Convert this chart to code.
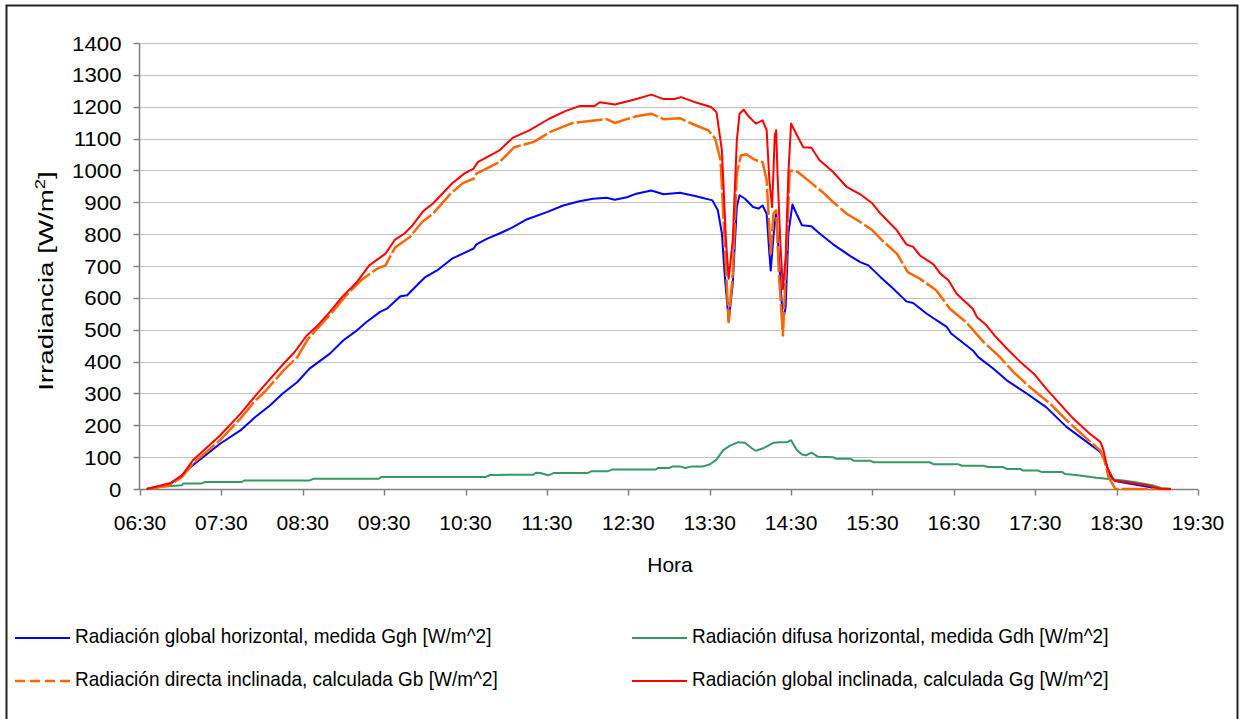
<!DOCTYPE html>
<html>
<head>
<meta charset="utf-8">
<script src="https://cdn.jsdelivr.net/npm/d3@7"></script>
<style>
  body { margin: 0; background: #fff; }
  svg { display: block; font-family: Arial, "Liberation Sans", sans-serif; }
</style>
</head>
<body>
<div class="container"></div>
<script>
// hour tick labels on the x axis
const xTickLabels = ["06:30", "07:30", "08:30", "09:30", "10:30", "11:30", "12:30",
  "13:30", "14:30", "15:30", "16:30", "17:30", "18:30", "19:30"];
const yTicks = [0, 100, 200, 300, 400, 500, 600, 700, 800, 900, 1000, 1100, 1200, 1300, 1400];

// Radiación global horizontal, medida Ggh
const ghTimes = ["06:35", "06:52", "07:01", "07:09", "07:29", "07:44", "07:55", "08:06", "08:15", "08:26",
  "08:35", "08:50", "09:00", "09:10", "09:17", "09:27", "09:32", "09:42", "09:47", "09:54",
  "10:00", "10:09", "10:20", "10:28", "10:36", "10:38", "10:46", "10:55", "11:05", "11:15",
  "11:30", "11:42", "11:54", "12:04", "12:14", "12:20", "12:29", "12:36", "12:47", "12:56",
  "13:08", "13:20", "13:32", "13:36", "13:39", "13:41", "13:44", "13:47", "13:50", "13:52",
  "13:56", "14:02", "14:06", "14:09", "14:12", "14:14", "14:15", "14:17", "14:19", "14:21",
  "14:24", "14:26", "14:28", "14:31", "14:34", "14:38", "14:45", "14:51", "15:01", "15:14",
  "15:21", "15:27", "15:36", "15:44", "15:55", "16:00", "16:10", "16:25", "16:28", "16:44",
  "16:48", "16:59", "17:09", "17:24", "17:38", "17:53", "18:08", "18:18", "18:22", "18:25",
  "18:29", "18:37", "18:52", "19:02", "19:10"];
const ghValues = [0, 15, 43, 75, 142, 184, 226, 263, 299, 336,
  378, 425, 467, 498, 524, 556, 566, 605, 608, 639,
  664, 686, 723, 739, 755, 768, 786, 802, 822, 846,
  869, 890, 903, 911, 914, 908, 916, 927, 937, 925,
  930, 919, 906, 875, 802, 676, 526, 645, 885, 922,
  911, 885, 880, 890, 864, 739, 686, 791, 872, 728,
  525, 571, 802, 893, 864, 828, 825, 802, 768, 730,
  712, 702, 665, 634, 589, 584, 550, 508, 488, 435,
  414, 378, 341, 299, 257, 195, 148, 116, 85, 43,
  25, 19, 8, 0, 0];

// Radiación difusa horizontal, medida Gdh
const gdTimes = ["06:35", "06:45", "06:49", "07:01", "07:02", "07:15", "07:18", "07:45", "07:47", "08:35",
  "08:38", "09:26", "09:28", "10:45", "10:48", "11:20", "11:22", "11:25", "11:31", "11:35",
  "12:00", "12:03", "12:15", "12:18", "12:50", "12:52", "13:00", "13:03", "13:08", "13:12",
  "13:17", "13:25", "13:30", "13:35", "13:40", "13:45", "13:51", "13:56", "14:01", "14:04",
  "14:09", "14:17", "14:22", "14:27", "14:30", "14:34", "14:38", "14:41", "14:45", "14:50",
  "15:01", "15:03", "15:14", "15:16", "15:28", "15:31", "16:12", "16:15", "16:33", "16:36",
  "16:52", "16:55", "17:06", "17:09", "17:19", "17:21", "17:32", "17:35", "17:50", "17:52",
  "18:00", "18:07", "18:15", "18:28", "18:35", "18:44", "18:56", "19:03", "19:10"];
const gdValues = [0, 6, 8, 12, 17, 17, 22, 22, 27, 27,
  32, 32, 38, 38, 44, 45, 51, 50, 43, 50,
  50, 56, 56, 61, 61, 66, 66, 71, 71, 66,
  71, 71, 77, 92, 122, 136, 147, 145, 128, 120,
  127, 145, 147, 147, 153, 124, 108, 106, 114, 101,
  100, 95, 95, 89, 89, 84, 84, 78, 78, 73,
  73, 69, 69, 63, 63, 58, 58, 53, 53, 47,
  44, 40, 35, 30, 27, 21, 12, 3, 0];

// Radiación directa inclinada, calculada Gb
const gbTimes = ["06:35", "06:52", "07:01", "07:09", "07:29", "07:44", "07:54", "08:03", "08:16", "08:26",
  "08:34", "08:43", "08:53", "09:02", "09:13", "09:25", "09:31", "09:38", "09:49", "09:58",
  "10:06", "10:19", "10:28", "10:36", "10:38", "10:55", "11:06", "11:20", "11:32", "11:49",
  "12:05", "12:14", "12:20", "12:29", "12:36", "12:47", "12:56", "13:08", "13:20", "13:29",
  "13:34", "13:38", "13:41", "13:44", "13:47", "13:50", "13:53", "13:57", "14:03", "14:09",
  "14:12", "14:15", "14:17", "14:19", "14:21", "14:24", "14:26", "14:29", "14:35", "14:44",
  "14:54", "15:01", "15:11", "15:21", "15:30", "15:37", "15:48", "15:56", "16:05", "16:17",
  "16:27", "16:39", "16:52", "17:04", "17:14", "17:26", "17:41", "17:53", "18:08", "18:18",
  "18:21", "18:24", "18:29", "19:10"];
const gbValues = [0, 12, 38, 80, 153, 221, 273, 310, 373, 414,
  472, 514, 561, 608, 655, 692, 702, 758, 791, 838,
  864, 927, 960, 974, 990, 1026, 1073, 1089, 1120, 1149,
  1157, 1161, 1149, 1161, 1170, 1178, 1161, 1164, 1141, 1126,
  1100, 1032, 781, 524, 676, 990, 1047, 1051, 1034, 1026,
  969, 739, 864, 875, 676, 482, 676, 1000, 995, 964,
  929, 901, 864, 838, 812, 781, 739, 681, 660, 624,
  566, 524, 461, 414, 367, 320, 268, 216, 158, 121,
  90, 38, 0, 0];

// Radiación global inclinada, calculada Gg
const ggTimes = ["06:35", "06:52", "07:01", "07:09", "07:29", "07:44", "07:55", "08:04", "08:16", "08:24",
  "08:33", "08:40", "08:50", "08:59", "09:10", "09:19", "09:31", "09:38", "09:45", "09:51",
  "09:59", "10:06", "10:20", "10:29", "10:36", "10:39", "10:55", "11:05", "11:17", "11:32",
  "11:44", "11:54", "12:05", "12:09", "12:20", "12:34", "12:47", "12:56", "13:04", "13:09",
  "13:20", "13:31", "13:35", "13:39", "13:42", "13:44", "13:47", "13:50", "13:52", "13:55",
  "13:58", "14:04", "14:09", "14:12", "14:14", "14:16", "14:18", "14:19", "14:20", "14:22",
  "14:24", "14:26", "14:28", "14:30", "14:35", "14:39", "14:45", "14:51", "15:01", "15:11",
  "15:21", "15:30", "15:36", "15:48", "15:55", "16:00", "16:05", "16:15", "16:20", "16:26",
  "16:32", "16:44", "16:47", "16:54", "17:00", "17:09", "17:19", "17:29", "17:38", "17:48",
  "17:58", "18:10", "18:18", "18:20", "18:23", "18:28", "18:37", "18:52", "19:02", "19:10"];
const ggValues = [0, 18, 43, 90, 168, 236, 292, 336, 394, 430,
  482, 509, 556, 603, 650, 702, 739, 783, 802, 828,
  873, 896, 959, 990, 1006, 1026, 1063, 1103, 1126, 1163,
  1187, 1202, 1202, 1214, 1207, 1222, 1238, 1224, 1224, 1230,
  1213, 1199, 1183, 1063, 781, 660, 781, 1094, 1178, 1191,
  1173, 1147, 1157, 1126, 969, 885, 1110, 1126, 990, 781,
  628, 728, 990, 1147, 1105, 1073, 1071, 1032, 995, 948,
  925, 896, 864, 812, 768, 760, 733, 705, 676, 655,
  613, 566, 540, 514, 482, 441, 399, 362, 315, 268,
  221, 174, 148, 127, 69, 27, 22, 12, 1, 0];

const seriesNames = [
  "Radiación global horizontal, medida Ggh [W/m^2]",
  "Radiación difusa horizontal, medida Gdh [W/m^2]",
  "Radiación directa inclinada, calculada Gb [W/m^2]",
  "Radiación global inclinada, calculada Gg [W/m^2]"
];

const parseTime = d3.timeParse("%H:%M");
const toPoints = (times, values) => times.map((t, i) => ({ t: parseTime(t), v: values[i] }));

const series = [
  { name: seriesNames[0], points: toPoints(ghTimes, ghValues), color: "#0000ff", width: 2, dash: null },
  { name: seriesNames[1], points: toPoints(gdTimes, gdValues), color: "#339966", width: 2, dash: null },
  { name: seriesNames[2], points: toPoints(gbTimes, gbValues), color: "#ff6600", width: 2.5, dash: "26,3" },
  { name: seriesNames[3], points: toPoints(ggTimes, ggValues), color: "#ff0000", width: 2, dash: null }
];

const width = 1247;
const height = 719;
const plot = { left: 140, right: 1198, top: 43, bottom: 489 };

const svg = d3
  .select(".container")
  .append("svg")
  .attr("width", width)
  .attr("height", height);

// chart area frame
svg
  .append("rect")
  .attr("x", 6.5)
  .attr("y", 5.5)
  .attr("width", 1231)
  .attr("height", 730)
  .attr("fill", "#fff")
  .attr("stroke", "#222")
  .attr("stroke-width", 2);

const xScale = d3
  .scaleTime()
  .domain([parseTime(xTickLabels[0]), parseTime(xTickLabels[xTickLabels.length - 1])])
  .range([plot.left, plot.right]);

const yScale = d3
  .scaleLinear()
  .domain([0, 1400])
  .range([plot.bottom, plot.top]);

const crisp = v => Math.round(v) + 0.5;

// horizontal gridlines
svg
  .append("g")
  .selectAll("line")
  .data(yTicks.filter(d => d > 0))
  .enter()
  .append("line")
  .attr("x1", plot.left)
  .attr("x2", plot.right)
  .attr("y1", d => crisp(yScale(d)))
  .attr("y2", d => crisp(yScale(d)))
  .attr("stroke", "#c0c0c0")
  .attr("stroke-width", 1);

// y axis
const yAxis = svg.append("g").attr("transform", `translate(${crisp(plot.left) - 1},0)`);
yAxis
  .append("line")
  .attr("y1", plot.top)
  .attr("y2", plot.bottom)
  .attr("stroke", "#808080")
  .attr("stroke-width", 1.5);
yAxis
  .selectAll(".tick")
  .data(yTicks)
  .enter()
  .append("line")
  .attr("x1", -6)
  .attr("x2", 0)
  .attr("y1", d => crisp(yScale(d)))
  .attr("y2", d => crisp(yScale(d)))
  .attr("stroke", "#808080")
  .attr("stroke-width", 1.5);
yAxis
  .selectAll("text")
  .data(yTicks)
  .enter()
  .append("text")
  .attr("transform", d => `translate(-18,${yScale(d)}) scale(1.06,1)`)
  .attr("dy", "0.36em")
  .attr("text-anchor", "end")
  .attr("font-size", 21)
  .attr("fill", "#000")
  .text(d => d);

// x axis
const xAxis = svg.append("g").attr("transform", `translate(0,${crisp(plot.bottom)})`);
xAxis
  .append("line")
  .attr("x1", plot.left - 1)
  .attr("x2", plot.right)
  .attr("stroke", "#808080")
  .attr("stroke-width", 1.5);
xAxis
  .selectAll(".tick")
  .data(xTickLabels)
  .enter()
  .append("line")
  .attr("x1", d => crisp(xScale(parseTime(d))))
  .attr("x2", d => crisp(xScale(parseTime(d))))
  .attr("y1", 0)
  .attr("y2", 6)
  .attr("stroke", "#808080")
  .attr("stroke-width", 1.5);
xAxis
  .selectAll("text")
  .data(xTickLabels)
  .enter()
  .append("text")
  .attr("x", d => xScale(parseTime(d)))
  .attr("y", 40)
  .attr("text-anchor", "middle")
  .attr("font-size", 21)
  .attr("fill", "#000")
  .text(d => d);

// axis titles
svg
  .append("text")
  .attr("x", 670)
  .attr("y", 572)
  .attr("text-anchor", "middle")
  .attr("font-size", 21)
  .text("Hora");

const yTitle = svg
  .append("text")
  .attr("transform", "translate(53,281) rotate(-90) scale(1.32,1)")
  .attr("text-anchor", "middle")
  .attr("font-size", 21);
yTitle.append("tspan").text("Irradiancia [W/m");
yTitle.append("tspan").attr("dy", -8).attr("font-size", 14).text("2");
yTitle.append("tspan").attr("dy", 8).text("]");

// series lines
const line = d3
  .line()
  .x(d => xScale(d.t))
  .y(d => yScale(d.v));

svg
  .append("g")
  .selectAll("path")
  .data(series)
  .enter()
  .append("path")
  .attr("d", d => line(d.points))
  .attr("fill", "none")
  .attr("stroke", d => d.color)
  .attr("stroke-width", d => d.width)
  .attr("stroke-dasharray", d => d.dash)
  .attr("stroke-linejoin", "round");

// legend, two columns x two rows
const legendPos = [
  { x: 15, y: 638 },
  { x: 632, y: 638 },
  { x: 15, y: 681 },
  { x: 632, y: 681 }
];

const legend = svg
  .append("g")
  .selectAll("g")
  .data(series)
  .enter()
  .append("g")
  .attr("transform", (d, i) => `translate(${legendPos[i].x},${legendPos[i].y})`);

legend
  .append("line")
  .attr("x1", 0)
  .attr("x2", 55)
  .attr("stroke", d => d.color)
  .attr("stroke-width", d => (d.dash ? 2.5 : 2))
  .attr("stroke-dasharray", d => (d.dash ? "10,5" : null));

legend
  .append("text")
  .attr("transform", "translate(60,5) scale(0.95,1)")
  .attr("font-size", 20)
  .attr("fill", "#000")
  .text(d => d.name);
</script>
</body>
</html>
